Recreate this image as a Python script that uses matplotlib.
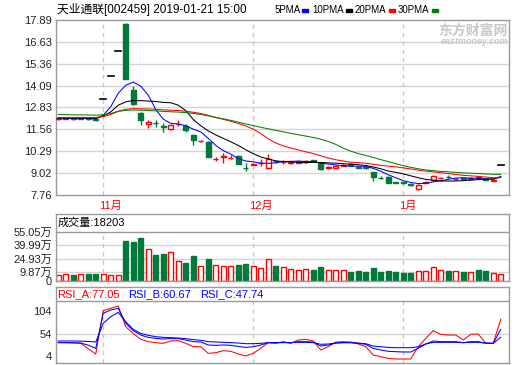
# -*- coding: utf-8 -*-
"""
K-line chart for 天业通联 [002459]: candles with moving averages,
volume bars and RSI panel.
"""

import numpy as np
import matplotlib.pyplot as plt
from matplotlib.patches import Rectangle

plt.rcParams['font.family'] = ['Liberation Sans', 'Noto Sans CJK SC']

# -----------------------------
# Data
# -----------------------------
open_ = [12.16, 12.18, 12.22, 12.17, 12.21, 12.15, 13.29, 14.62, 16.08, 17.66,
         13.84, 12.52, 11.86, 11.95, 11.73, 11.60, 11.86, 11.75, 11.25, 10.86,
         10.84, 9.82, 9.95, 9.89, 10.04, 9.35, 9.52, 9.60, 9.34, 9.73,
         9.66, 9.60, 9.64, 9.66, 9.76, 9.62, 9.33, 9.33, 9.46, 9.53,
         9.40, 9.36, 9.08, 8.76, 8.83, 8.51, 8.50, 8.38, 8.12, 8.48,
         8.61, 8.74, 8.82, 8.67, 8.72, 8.68, 8.80, 8.68, 8.58, 9.47]
high = [12.25, 12.26, 12.24, 12.25, 12.24, 12.18, 13.29, 14.62, 16.08, 17.69,
        14.05, 12.58, 12.13, 12.12, 11.90, 11.85, 12.10, 11.85, 11.30, 10.95,
        10.86, 9.98, 10.22, 10.05, 10.08, 9.60, 9.62, 9.85, 10.11, 9.80,
        9.80, 9.72, 9.75, 9.78, 9.80, 9.64, 9.42, 9.50, 9.56, 9.60,
        9.44, 9.40, 9.10, 8.88, 8.86, 8.54, 8.52, 8.44, 8.38, 8.58,
        8.92, 8.82, 8.90, 8.75, 8.74, 8.78, 8.84, 8.70, 8.66, 9.47]
low = [12.12, 12.15, 12.12, 12.14, 12.10, 12.03, 13.29, 14.62, 16.08, 14.47,
       12.95, 11.84, 11.62, 11.72, 11.40, 11.50, 11.75, 11.40, 10.65, 10.80,
       9.97, 9.75, 9.62, 9.85, 9.53, 9.15, 9.50, 9.45, 9.28, 9.62,
       9.58, 9.55, 9.60, 9.62, 9.66, 9.20, 9.28, 9.30, 9.42, 9.44,
       9.30, 9.28, 8.55, 8.70, 8.45, 8.44, 8.42, 8.30, 8.05, 8.45,
       8.58, 8.70, 8.72, 8.64, 8.64, 8.66, 8.70, 8.60, 8.55, 9.47]
close_ = [12.22, 12.22, 12.18, 12.21, 12.16, 12.08, 13.29, 14.62, 16.08, 14.47,
          13.02, 12.13, 11.98, 11.93, 11.70, 11.83, 11.89, 11.52, 10.92, 10.89,
          9.98, 9.86, 10.02, 9.92, 9.55, 9.32, 9.58, 9.63, 9.85, 9.70,
          9.69, 9.67, 9.70, 9.72, 9.71, 9.25, 9.36, 9.46, 9.50, 9.51,
          9.33, 9.31, 8.83, 8.73, 8.45, 8.47, 8.46, 8.36, 8.36, 8.54,
          8.88, 8.77, 8.79, 8.70, 8.66, 8.74, 8.74, 8.62, 8.61, 9.47]

ma5 = [12.20, 12.20, 12.20, 12.20, 12.20, 12.17, 12.38, 12.87, 13.65, 14.11,
       14.30, 14.06, 13.54, 12.71, 12.15, 11.91, 11.87, 11.77, 11.57, 11.41,
       11.04, 10.63, 10.33, 10.13, 9.87, 9.73, 9.68, 9.60, 9.59, 9.62,
       9.69, 9.71, 9.72, 9.70, 9.70, 9.61, 9.55, 9.50, 9.46, 9.42,
       9.43, 9.42, 9.30, 9.14, 8.93, 8.76, 8.59, 8.49, 8.42, 8.44,
       8.52, 8.58, 8.67, 8.74, 8.76, 8.73, 8.73, 8.69, 8.67, 8.84]
ma10 = [12.22, 12.22, 12.21, 12.21, 12.21, 12.20, 12.33, 12.57, 12.96, 13.15,
        13.23, 13.22, 13.20, 13.17, 13.12, 13.10, 12.96, 12.65, 12.13, 11.77,
        11.47, 11.24, 11.04, 10.84, 10.63, 10.38, 10.15, 9.96, 9.85, 9.73,
        9.70, 9.68, 9.65, 9.63, 9.65, 9.64, 9.62, 9.60, 9.57, 9.55,
        9.51, 9.47, 9.38, 9.28, 9.15, 9.07, 8.98, 8.87, 8.76, 8.66,
        8.62, 8.57, 8.57, 8.57, 8.59, 8.62, 8.65, 8.68, 8.70, 8.79]
ma20 = [12.25, 12.25, 12.25, 12.25, 12.25, 12.25, 12.30, 12.42, 12.61, 12.72,
        12.76, 12.75, 12.74, 12.72, 12.69, 12.67, 12.65, 12.61, 12.55, 12.48,
        12.37, 12.25, 12.14, 12.03, 11.90, 11.76, 11.57, 11.32, 11.01, 10.77,
        10.60, 10.48, 10.37, 10.26, 10.16, 10.03, 9.90, 9.80, 9.73, 9.66,
        9.63, 9.60, 9.54, 9.48, 9.43, 9.39, 9.33, 9.27, 9.20, 9.14,
        9.10, 9.05, 9.00, 8.95, 8.90, 8.87, 8.84, 8.80, 8.76, 8.76]
ma30 = [12.42, 12.41, 12.40, 12.40, 12.39, 12.38, 12.41, 12.48, 12.60, 12.66,
        12.68, 12.67, 12.65, 12.63, 12.60, 12.58, 12.56, 12.53, 12.48, 12.42,
        12.34, 12.25, 12.17, 12.08, 11.98, 11.87, 11.78, 11.68, 11.59, 11.50,
        11.42, 11.33, 11.25, 11.17, 11.09, 10.99, 10.86, 10.69, 10.47, 10.30,
        10.16, 10.05, 9.93, 9.81, 9.69, 9.57, 9.46, 9.36, 9.28, 9.21,
        9.17, 9.13, 9.10, 9.07, 9.04, 9.02, 9.00, 8.98, 8.96, 8.95]

# volume in 万
vol = [6.6, 7.3, 6.6, 7.3, 7.7, 7.7, 7.3, 6.6, 6.6, 45.1,
       43.0, 48.5, 35.2, 28.6, 29.7, 32.7, 22.8, 19.8, 27.5, 17.3,
       24.2, 18.4, 17.3, 16.2, 17.6, 18.7, 16.3, 14.3, 24.2, 16.5,
       15.1, 13.2, 12.1, 13.2, 12.1, 15.4, 12.1, 12.1, 12.1, 9.9,
       11.0, 9.9, 14.3, 9.9, 11.0, 9.9, 8.8, 8.8, 11.0, 11.0,
       15.4, 12.1, 11.0, 11.0, 9.9, 9.9, 12.1, 11.0, 8.4, 7.3]

rsi_a = [39.1, 39.0, 38.5, 38.0, 29.0, 20.6, 91.0, 95.0, 98.7, 65.0,
         54.0, 44.5, 40.7, 39.1, 38.0, 41.8, 42.3, 38.0, 32.5, 32.5,
         21.7, 22.8, 26.0, 25.0, 20.6, 17.4, 21.7, 29.8, 39.1, 38.0,
         40.7, 38.0, 43.4, 44.5, 41.8, 27.1, 32.5, 40.0, 40.7, 40.0,
         36.9, 32.5, 19.0, 16.3, 13.6, 12.5, 12.5, 12.5, 32.5, 46.0,
         58.6, 52.6, 51.5, 51.5, 43.4, 52.6, 53.2, 38.0, 38.0, 77.05]
rsi_b = [39.1, 39.1, 39.0, 38.5, 35.0, 29.8, 86.8, 92.2, 94.9, 70.5,
         58.6, 51.5, 47.7, 46.0, 45.0, 45.6, 45.6, 43.4, 40.7, 40.2,
         35.3, 34.7, 35.3, 34.7, 33.0, 31.4, 32.5, 35.3, 39.1, 39.0,
         39.5, 39.0, 40.7, 40.7, 40.0, 33.6, 35.3, 38.5, 39.1, 39.1,
         38.0, 36.4, 29.8, 27.1, 25.0, 24.4, 23.9, 23.9, 29.8, 36.9,
         41.8, 40.7, 40.7, 40.7, 39.1, 40.7, 40.7, 38.0, 38.0, 60.67]
rsi_c = [41.8, 41.8, 41.8, 41.5, 41.0, 40.2, 70.5, 81.3, 88.4, 73.2,
         60.7, 54.2, 51.0, 48.8, 47.7, 47.2, 46.6, 45.6, 44.0, 42.9,
         40.7, 40.2, 39.6, 39.1, 38.5, 37.4, 37.4, 38.0, 39.1, 39.1,
         39.1, 39.1, 39.6, 39.6, 39.1, 36.4, 36.9, 38.5, 39.1, 39.1,
         38.5, 37.4, 33.6, 32.5, 31.4, 30.9, 30.9, 30.9, 32.5, 36.9,
         39.6, 39.6, 39.6, 39.6, 39.1, 39.6, 39.6, 38.5, 38.0, 47.74]

price_ticks = [7.76, 9.02, 10.29, 11.56, 12.83, 14.09, 15.36, 16.63, 17.89]
vol_ticks = [0, 9.87, 24.93, 39.99, 55.05]
vol_labels = ['0', '9.87万', '24.93万', '39.99万', '55.05万']
rsi_labels = ['4', '54', '104']
month_pos = [6, 26, 46]
month_labels = ['11月', '12月', '1月']

# -----------------------------
# Style
# -----------------------------
RED = '#ff0000'
GREEN = '#00793a'
BORDER = '#9a9a9a'
GRID = '#d4d4d4'
W, H = 520, 365
bw = 0.67
lw_line = 0.75


def box(l, t, r, b):
    return [l / W, 1 - b / H, (r - l) / W, (b - t) / H]


fig = plt.figure(figsize=(W / 100, H / 100), dpi=100)
ax_p = fig.add_axes(box(56, 20, 509, 195))
ax_v = fig.add_axes(box(56, 214, 509, 281))
ax_r = fig.add_axes(box(56, 287, 509, 363))

n = len(close_)
x = np.arange(n)
up = np.array(close_) >= np.array(open_)

for ax in (ax_p, ax_v, ax_r):
    ax.set_xlim(-0.3, 60.1)
    ax.set_xticks([])
    ax.tick_params(axis='y', length=0, pad=3, labelsize=8, labelcolor='#222222')
    for s in ax.spines.values():
        s.set_color(BORDER)
        s.set_linewidth(1)

# -----------------------------
# Price panel
# -----------------------------
ax_p.set_ylim(7.76, 17.89)
ax_p.set_yticks(price_ticks)
ax_p.set_yticklabels([f'{t:.2f}' for t in price_ticks])
for t in price_ticks[1:-1]:
    ax_p.axhline(t, color=GRID, lw=1, zorder=0)
for m in month_pos:
    ax_p.axvline(m, color='#c8c8c8', lw=1, ls=(0, (3, 3)), zorder=0)

for i in range(n):
    if high[i] == low[i]:
        # one-price day
        ax_p.plot([i - 0.42, i + 0.42], [close_[i], close_[i]], color='black', lw=1.2, zorder=3)
        continue
    c = RED if up[i] else GREEN
    ax_p.vlines(i, low[i], high[i], color=c, lw=1, zorder=2)
    bottom = min(open_[i], close_[i])
    h = max(abs(close_[i] - open_[i]), 0.02)
    ax_p.add_patch(Rectangle((i - bw / 2, bottom), bw, h, facecolor='white' if up[i] else c,
                             edgecolor=c, lw=1, zorder=3))

ax_p.plot(x, ma5, color='#0000ff', lw=lw_line, zorder=4)
ax_p.plot(x, ma10, color='black', lw=lw_line, zorder=4)
ax_p.plot(x, ma20, color=RED, lw=lw_line, zorder=4)
ax_p.plot(x, ma30, color='#008000', lw=lw_line, zorder=4)

for m, lab in zip(month_pos, month_labels):
    ax_p.annotate(lab, xy=(m, 0), xycoords=('data', 'axes fraction'), xytext=(-3, -7.5),
                  textcoords='offset points', ha='left', va='center', color=RED, fontsize=8)

# -----------------------------
# Volume panel
# -----------------------------
ax_v.set_ylim(0, 74.8)
ax_v.set_yticks(vol_ticks)
ax_v.set_yticklabels(vol_labels)
for t in vol_ticks[1:-1]:
    ax_v.axhline(t, color=GRID, lw=1, zorder=0)
ax_v.axhline(vol_ticks[-1], color=BORDER, lw=1, zorder=1)
for m in month_pos:
    ax_v.plot([m, m], [0, vol_ticks[-1]], color='#c8c8c8', lw=1, ls=(0, (3, 3)), zorder=0)
ax_v.bar(x, vol, width=bw, color=['white' if u else GREEN for u in up],
         edgecolor=[RED if u else GREEN for u in up], lw=1, zorder=2)
fig.text(58 / W, 1 - 222.5 / H, '成交量:18203', fontsize=8, va='center', color='black')

# -----------------------------
# RSI panel
# -----------------------------
ax_r.set_ylim(6.0, 129.6)
ax_r.set_yticks([17.4, 53.15, 90.5])
ax_r.set_yticklabels(rsi_labels)
ax_r.axhline(53.15, color=GRID, lw=1, zorder=0)
ax_r.axhline(106.8, color=BORDER, lw=1, zorder=1)
for m in month_pos:
    ax_r.plot([m, m], [6.0, 106.8], color='#c8c8c8', lw=1, ls=(0, (3, 3)), zorder=0)
ax_r.plot(x, rsi_a, color=RED, lw=lw_line, zorder=3)
ax_r.plot(x, rsi_b, color='#0000ff', lw=lw_line, zorder=3)
ax_r.plot(x, rsi_c, color='#0000ff', lw=lw_line, zorder=3)
fig.text(57 / W, 1 - 294 / H, 'RSI_A:77.05', fontsize=8, va='center', color=RED)
fig.text(128 / W, 1 - 294 / H, 'RSI_B:60.67', fontsize=8, va='center', color='#0000ff')
fig.text(200 / W, 1 - 294 / H, 'RSI_C:47.74', fontsize=8, va='center', color='#0000ff')

# -----------------------------
# Title, legend, watermark
# -----------------------------
fig.text(57 / W, 1 - 10 / H, '天业通联[002459] 2019-01-21 15:00', fontsize=8.5, va='center')
legend = [('5PMA', 275, 302, '#0000ff'), ('10PMA', 312, 346, 'black'),
          ('20PMA', 355, 389, RED), ('30PMA', 398, 432, '#008000')]
for lab, tx, mx, col in legend:
    fig.text(tx / W, 1 - 10 / H, lab, fontsize=7, va='center')
    fig.add_artist(Rectangle((mx / W, 1 - 12 / H), 6 / W, 3 / H, color=col,
                             transform=fig.transFigure))

fig.text(508 / W, 1 - 31 / H, '东方财富网', fontsize=10, fontweight='bold',
         color='#c8c8c8', ha='right', va='center')
fig.text(508 / W, 1 - 41.5 / H, 'eastmoney.com', fontsize=6.5, fontweight='bold',
         style='italic', color='#c8c8c8', ha='right', va='center')

fig.savefig('out.png', dpi=100)
